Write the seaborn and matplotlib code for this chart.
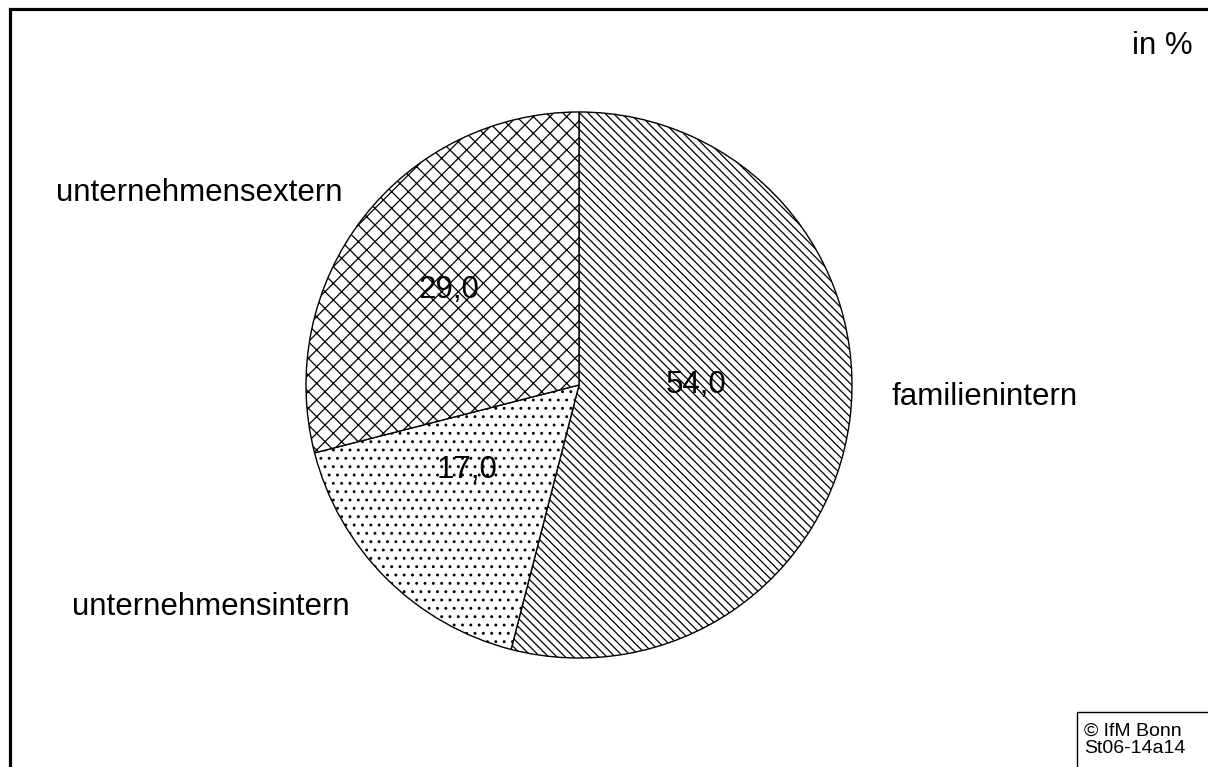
import numpy as np
import matplotlib.pyplot as plt
import seaborn as sns
from matplotlib.patches import Rectangle

sns.set_theme(style="white")
plt.rcParams["font.family"] = ["Liberation Sans", "DejaVu Sans"]
plt.rcParams["text.color"] = "black"
plt.rcParams["hatch.linewidth"] = 0.9

# Daten
kategorien = ["familienintern", "unternehmensintern", "unternehmensextern"]
anteile = [54.0, 17.0, 29.0]
schraffur = ["\\\\\\\\", "..", "xx"]

# Beschriftungspositionen (Layout)
wert_pos = [(0.43, 0.0), (-0.41, -0.31), (-0.476, 0.348)]
name_pos = [(1.143, -0.044, "left"), (-0.839, -0.813, "right"), (-0.868, 0.703, "right")]

fig = plt.figure(figsize=(12.08, 7.67), dpi=100)
ax = fig.add_axes([0.2533, 0.1421, 0.452, 0.7119])

keile, _ = ax.pie(anteile, startangle=90, counterclock=False, radius=1,
                  colors=["white"] * 3,
                  wedgeprops=dict(edgecolor="black", linewidth=1.0))
for k, h in zip(keile, schraffur):
    k.set_hatch(h)

for (x, y), v in zip(wert_pos, anteile):
    ax.text(x, y, f"{v:.1f}".replace(".", ","), ha="center", va="center", fontsize=22.5,
            color="black")
for (x, y, ha), name in zip(name_pos, kategorien):
    ax.text(x, y, name, ha=ha, va="center", fontsize=22.5, color="black")

ax.set_xlim(-1, 1)
ax.set_ylim(-1, 1)
ax.set_aspect("equal")
ax.axis("off")

fig.text(1193 / 1208, 1 - 46 / 767, "in %", ha="right", va="center", fontsize=22.5, color="black")

# Rahmen (nur links und oben sichtbar)
fig.patches.append(Rectangle((9.5 / 1208, -0.05), 1.2, 1 - 8.5 / 767 + 0.05,
                             transform=fig.transFigure, fill=False, edgecolor="black",
                             linewidth=2.3))
fig.patches.append(Rectangle((1077 / 1208, -0.01), 0.2, (767 - 712) / 767 + 0.01,
                             transform=fig.transFigure, fill=False, edgecolor="black", linewidth=1))
fig.text(1084 / 1208, 1 - 740 / 767, "© IfM Bonn\nSt06-14a14", ha="left", va="center",
         fontsize=14, linespacing=1.0, color="black")

fig.savefig("out.png", dpi=100)
